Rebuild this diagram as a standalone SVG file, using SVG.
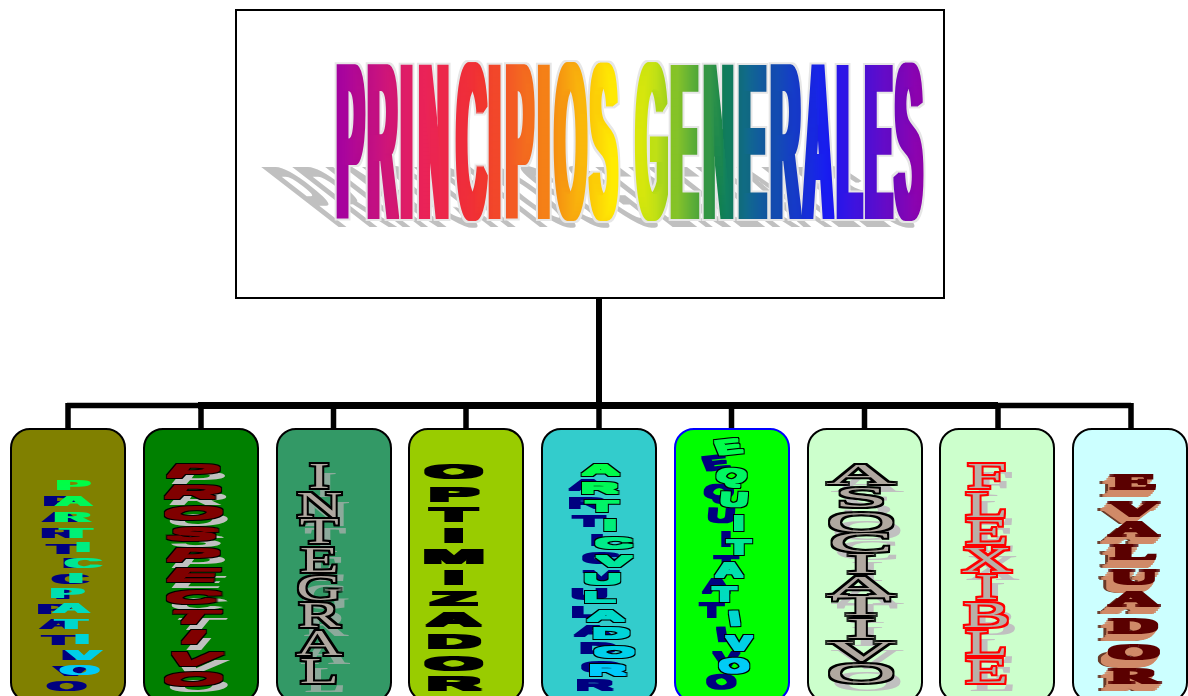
<svg xmlns="http://www.w3.org/2000/svg" width="1188" height="696" viewBox="0 0 1188 696">
<style>
.box{stroke:#000;stroke-width:2}
.card{stroke:#000;stroke-width:2;rx:19px;ry:19px}
.stem{stroke:#000;fill:none}
filter{color-interpolation-filters:sRGB}
text{font-size:10.5px;text-anchor:middle;font-family:"Liberation Sans",Arial,sans-serif}
.b{font-weight:bold}
.bi{font-weight:bold;font-style:italic;font-size:11px}
.s{font-family:"Liberation Serif","Times New Roman",serif}
.sb{font-family:"Liberation Serif","Times New Roman",serif;font-weight:bold;font-size:8.5px}
.title{font-size:84px;font-weight:bold;text-anchor:start}
.navy{fill:#000080}
.grey{fill:#c0c0c0}
.copper{fill:#d08a68}
.copperd{fill:#6a3a28}
</style>
<defs>
<linearGradient id="rainbow" x1="0" y1="0" x2="1" y2="0">
<stop offset="0" stop-color="#a000a0"/>
<stop offset=".14" stop-color="#e8205a"/>
<stop offset=".24" stop-color="#f03030"/>
<stop offset=".38" stop-color="#f59010"/>
<stop offset=".48" stop-color="#fff000"/>
<stop offset=".54" stop-color="#c0e010"/>
<stop offset=".6" stop-color="#60b030"/>
<stop offset=".66" stop-color="#108050"/>
<stop offset=".71" stop-color="#106090"/>
<stop offset=".84" stop-color="#1818f0"/>
<stop offset="1" stop-color="#9000a8"/>
</linearGradient>
<linearGradient id="aqua" x1="0" y1="0" x2="0" y2="1">
<stop offset="0" stop-color="#00ff40"/>
<stop offset="1" stop-color="#00c8ff"/>
</linearGradient>
<filter id="ft" x="-5%" y="-10%" width="110%" height="120%"><feMorphology in="SourceGraphic" operator="dilate" radius="2.5 .5" result="b"/><feMorphology in="b" operator="dilate" radius="1.5" result="o"/><feFlood flood-color="#e6e6e6"/><feComposite in2="o" operator="in" result="l"/><feMerge><feMergeNode in="l"/><feMergeNode in="b"/></feMerge></filter>
<filter id="fts" x="-5%" y="-10%" width="110%" height="120%"><feMorphology operator="dilate" radius="1 0"/></filter>
<filter id="fa" x="-30%" y="-5%" width="160%" height="110%"><feMorphology operator="dilate" radius="3 .3"/></filter>
<filter id="fb" x="-30%" y="-5%" width="160%" height="110%"><feMorphology operator="dilate" radius="1.5 .3"/></filter>
<filter id="fk" x="-30%" y="-5%" width="160%" height="110%"><feMorphology operator="dilate" radius="3.5 1.2"/></filter>
<filter id="fe" x="-30%" y="-5%" width="160%" height="110%"><feMorphology operator="dilate" radius="2 .5"/></filter>
<filter id="fv" x="-30%" y="-5%" width="160%" height="110%"><feMorphology operator="dilate" radius="2.5 .6"/></filter>
<filter id="fo" x="-30%" y="-5%" width="160%" height="110%"><feMorphology in="SourceGraphic" operator="dilate" radius="1.5 .5" result="b"/><feMorphology in="b" operator="dilate" radius="1" result="o"/><feFlood flood-color="#000"/><feComposite in2="o" operator="in" result="l"/><feMerge><feMergeNode in="l"/><feMergeNode in="b"/></feMerge></filter>
<filter id="fs" x="-30%" y="-5%" width="160%" height="110%"><feMorphology in="SourceGraphic" operator="dilate" radius=".3 0" result="b"/><feMorphology in="b" operator="dilate" radius="1.6" result="o"/><feFlood flood-color="#000"/><feComposite in2="o" operator="in" result="l"/><feMerge><feMergeNode in="l"/><feMergeNode in="b"/></feMerge></filter>
<filter id="fr" x="-30%" y="-5%" width="160%" height="110%"><feMorphology in="SourceGraphic" operator="dilate" radius=".3 0" result="b"/><feMorphology in="b" operator="dilate" radius="1.6" result="o"/><feFlood flood-color="#ff0000"/><feComposite in2="o" operator="in" result="l"/><feMerge><feMergeNode in="l"/><feMergeNode in="b"/></feMerge></filter>
</defs>
<rect width="1188" height="696" fill="#fff"/>
<g id="connectors" class="stem">
<path d="M599 298V405" stroke-width="6"/>
<path d="M67 405.5H198M998 405.5H1131" stroke-width="5.5"/>
<path d="M198 405.5H998" stroke-width="7"/>
<path d="M68 403V429M201 405V429M333.500 405V429M466 405V429M599 405V429M731.500 405V429M864.500 405V429M998 405V429M1131 403V429" stroke-width="5.500"/>
</g>
<g id="title">
<rect class="box" x="236" y="10" width="708" height="288" fill="#fff"/>
<g filter="url(#fts)"><use href="#title-text" class="grey" transform="matrix(.478 0 1.34 1.04 336 227)"/></g>
<g filter="url(#ft)"><g transform="matrix(.478 0 0 2.63 336 217.500)" fill="url(#rainbow)">
<text id="title-text" class="title" x="2 67 136 174 253 320 356 423 458 532 580 628 701 770 843 910 978 1048 1107 1170">PRINCIPIOS GENERALES</text>
</g></g>
</g>
<g id="node-participativo">
<rect class="card" x="11" y="429" width="114" height="272.500" fill="#808000"/>
<g filter="url(#fa)"><use href="#t1" class="navy" transform="translate(-13 16) scale(4.7 1.33)"/></g>
<g filter="url(#fa)"><g transform="scale(4.7 1.33)" fill="url(#aqua)">
<text id="t1" class="b" x="15.6 15.68 15.38 16.17 17.66 17.72 16.17 14.32 15.17 15.17 17.45 17.87 16.96" y="368.4 380.5 392.5 404.3 415 427.1 438.3 449.4 461.1 473.2 484.4 496.2 507.7">PARTICIPATIVO</text>
</g></g>
</g>
<g id="node-prospectivo">
<rect class="card" x="144" y="429" width="114" height="272.500" fill="#008000"/>
<g filter="url(#fb)"><use href="#t2" class="grey" transform="translate(5 7) scale(6.9 1.55)"/></g>
<g filter="url(#fo)"><g transform="scale(6.9 1.55)" fill="#800000">
<text id="t2" class="bi" x="27.9 27.9 27.9 27.9 27.9 27.9 27.9 27.9 27.9 27.9 27.9" y="308 321.3 334.8 348.6 361.7 375.1 389 401.9 415.1 428.8 441.7">PROSPECTIVO</text>
</g></g>
</g>
<g id="node-integral">
<rect class="card" x="277" y="429" width="114" height="272.500" fill="#339966"/>
<g filter="url(#fb)" opacity=".7"><use href="#t3" fill="#b2b2b2" transform="translate(6 9) scale(6.1 3.47)"/></g>
<g filter="url(#fs)"><g transform="scale(6.1 3.47)" fill="#b0a8a0">
<text id="t3" class="s" x="52.34 52.34 52.34 52.34 52.34 52.34 52.34 52.34" y="140.5 148.9 156.6 164.8 172.9 180.6 188.8 196.9">INTEGRAL</text>
</g></g>
</g>
<g id="node-optimizador">
<rect class="card" x="409" y="429" width="114" height="272.500" fill="#99cc00"/>
<g filter="url(#fk)"><g transform="scale(7 1.72)" fill="#000">
<text class="b" x="64.83 64.83 64.83 64.83 64.83 64.83 64.83 64.83 64.83 64.83 64.83" y="278 291.2 302.8 315.2 327.6 339.6 352 364.2 376.8 389.4 401">OPTIMIZADOR</text>
</g></g>
</g>
<g id="node-articulador">
<rect class="card" x="542" y="429" width="114" height="272.500" fill="#33cccc"/>
<g filter="url(#fe)"><use href="#t5" class="navy" transform="translate(-13 15) scale(5 1.31)"/></g>
<g filter="url(#fo)"><g transform="scale(5 1.31)" fill="url(#aqua)">
<text id="t5" class="b" x="120.16 119.9 120.4 122 122.8 122.86 120.5 119.9 121.2 122.2 122.86 121.5" y="362.4 376.3 390.4 404.4 418.3 432.4 445.6 459.5 473.8 487 501.8 515">ARTICVULADOR</text>
</g></g>
</g>
<g id="node-equitativo">
<rect class="card" x="675" y="429" width="114" height="272.500" fill="#00ff00" style="stroke:#0000ff"/>
<g filter="url(#fe)"><use href="#t6" class="navy" transform="translate(-12.7 16) scale(3.6 1.87)"/></g>
<g filter="url(#fo)"><g transform="scale(3.6 1.87)" fill="url(#aqua)">
<text id="t6" class="b" x="203.14 202.56 203.7 205.2 205.3 202.56 201.25 204.4 205.28 204.8" y="243.2 257.1 270.4 283.3 296.3 308.8 321.6 334.4 347.4 360.4" rotate="-12 12 3 0 0 0 0 -5 0 -12">EQUITATIVO</text>
</g></g>
</g>
<g id="node-asociativo">
<rect class="card" x="808" y="429" width="114" height="272.500" fill="#ccffcc"/>
<g filter="url(#fb)"><use href="#t7" class="grey" transform="translate(6 8) scale(9.3 2.72)"/></g>
<g filter="url(#fs)"><g transform="scale(9.3 2.72)" fill="#b0a8a0">
<text id="t7" class="s" x="92.6 92.6 92.6 92.6 92.6 92.6 92.6 92.6 92.6 92.6" y="178 186.5 195.5 202.8 210.8 219 226.1 234.4 243 251.2">ASOCIATIVO</text>
</g></g>
</g>
<g id="node-flexible">
<rect class="card" x="940" y="429" width="114" height="272.500" fill="#ccffcc"/>
<g filter="url(#fb)"><use href="#t8" class="grey" transform="translate(6 8) scale(6.8 3.41)"/></g>
<g filter="url(#fr)"><g transform="scale(6.8 3.41)" fill="#b8b0a8">
<text id="t8" class="s" x="145.1 145.1 145.1 145.1 145.1 145.1 145.1 145.1" y="143.1 151.5 159.5 167.6 175.6 183.9 192 200.3">FLEXIBLE</text>
</g></g>
</g>
<g id="node-evaluador">
<rect class="card" x="1073" y="429" width="114" height="272.500" fill="#ccffff"/>
<g filter="url(#fv)"><use href="#t9" class="copperd" transform="translate(-10 7) scale(8 2.5)"/></g>
<g filter="url(#fv)"><use href="#t9" class="copperd" transform="translate(-9 7.500) scale(8 2.5)"/></g>
<g filter="url(#fv)"><use href="#t9" class="copper" transform="translate(-7 7.500) scale(8 2.5)"/></g>
<g filter="url(#fv)"><use href="#t9" class="copper" transform="translate(-5 6.500) scale(8 2.5)"/></g>
<g filter="url(#fv)"><use href="#t9" class="copper" transform="translate(-3 4.500) scale(8 2.5)"/></g>
<g filter="url(#fv)"><use href="#t9" class="copper" transform="translate(-1.500 2.500) scale(8 2.5)"/></g>
<g filter="url(#fv)"><g transform="scale(8 2.5)" fill="#5a0000">
<text id="t9" class="sb" x="141.75 141.75 141.75 141.75 141.75 141.75 141.75 141.75 141.75" y="195.6 206.4 214.4 223.7 233.7 242.4 253.1 263.7 273.1">EVALUADOR</text>
</g></g>
</g>
</svg>
